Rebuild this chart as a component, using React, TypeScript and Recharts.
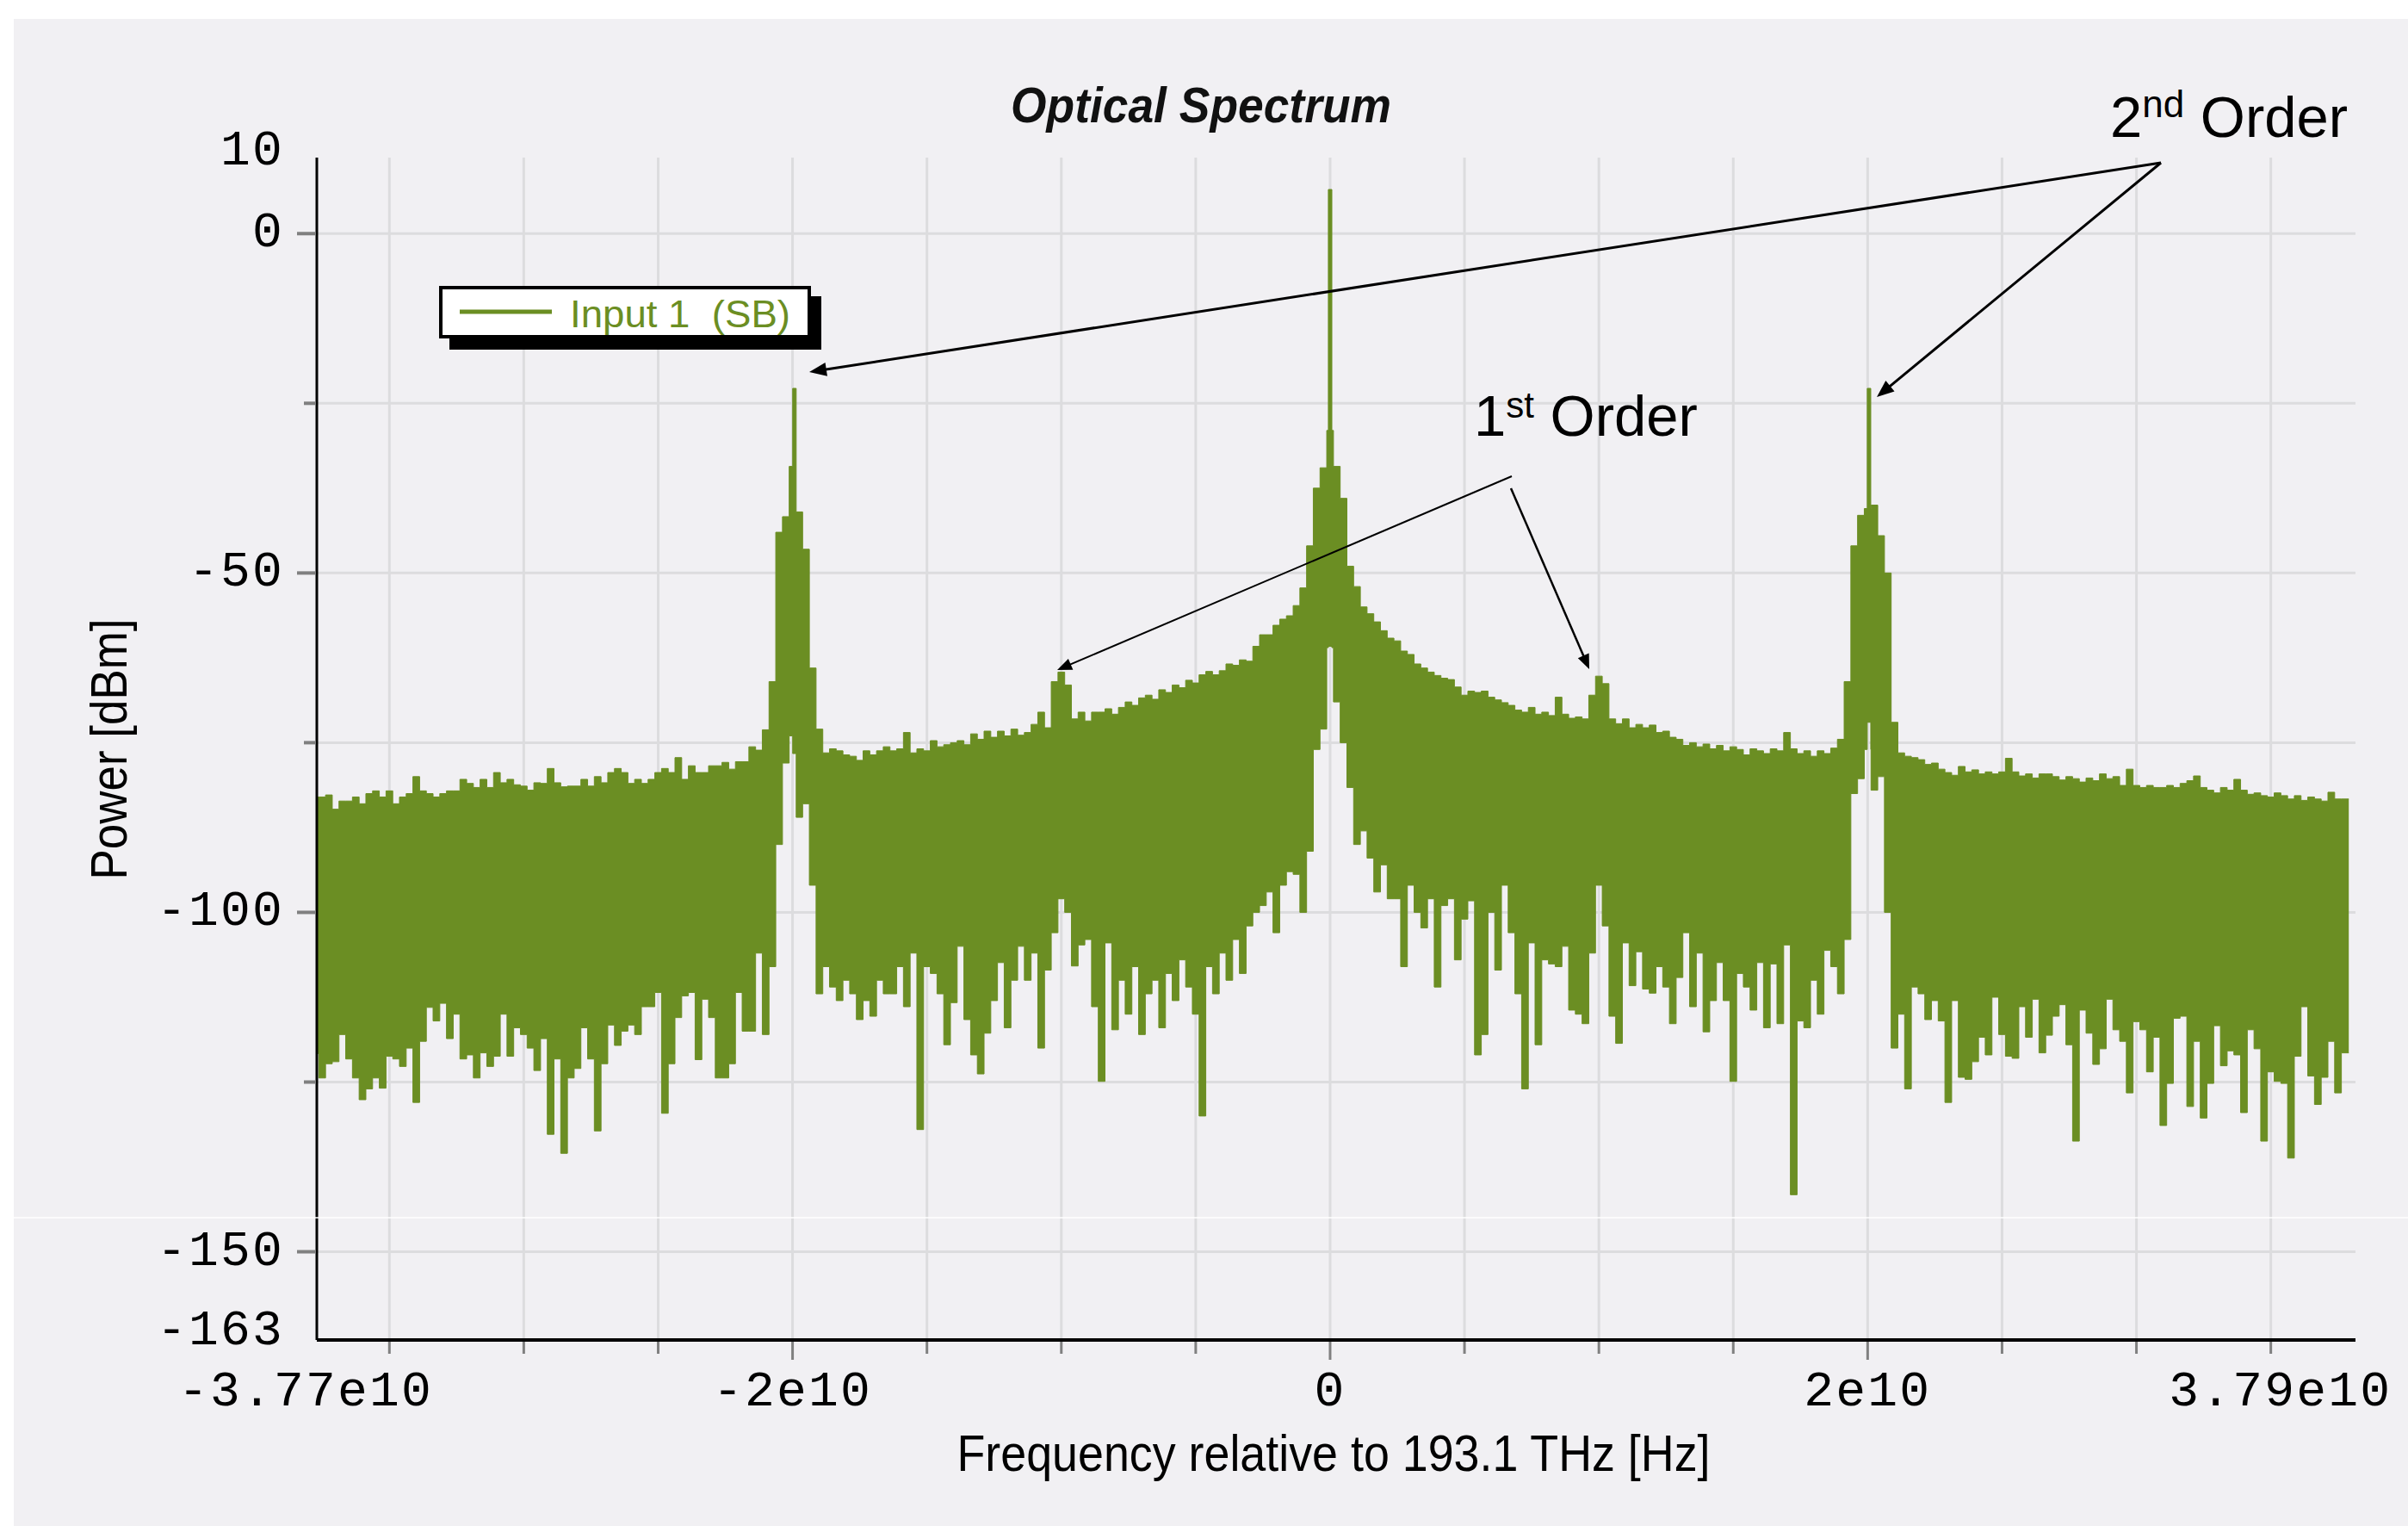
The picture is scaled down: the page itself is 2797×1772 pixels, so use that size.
import React from 'react';
import { ComposedChart, Area, XAxis, YAxis, CartesianGrid } from 'recharts';

// Frequency is in units of 1e10 Hz. The spectrum is binned: bin k starts at BIN0 + k * BIN_W.
const BIN0 = -3.7875;
const BIN_W = 0.025;
const F_MIN = -3.77;
const F_END = 3.79;
const X_MAX = 3.815;
const Y_MIN = -163;
const Y_MAX = 11.2;

// upper edge of each bin, dBm
const upper = [
  -83.0, -83.0, -82.7, -84.8, -83.6, -83.6, -83.0, -84.0, -82.5, -82.1,
  -83.0, -82.1, -84.0, -83.0, -82.5, -80.0, -82.1, -82.5, -83.0, -82.5,
  -82.1, -82.1, -80.4, -81.0, -81.6, -80.4, -81.6, -79.4, -80.9, -80.4,
  -81.2, -81.4, -82.0, -80.9, -81.0, -78.8, -80.9, -81.5, -81.4, -81.4,
  -80.4, -81.4, -80.0, -80.9, -79.4, -78.8, -79.4, -81.0, -80.4, -81.0,
  -80.4, -79.4, -78.8, -79.4, -77.2, -80.4, -78.4, -79.4, -79.4, -78.4,
  -78.4, -77.9, -78.9, -77.8, -77.8, -75.6, -76.1, -73.1, -66.0, -44.0,
  -41.7, -34.3, -41.0, -46.5, -64.0, -73.0, -76.5, -75.9, -76.2, -76.8,
  -77.0, -77.6, -76.2, -76.8, -76.2, -75.6, -76.2, -75.9, -73.5, -76.5,
  -75.9, -76.2, -74.7, -75.6, -75.3, -75.0, -74.7, -75.3, -73.7, -74.5,
  -73.3, -74.2, -73.3, -74.0, -73.0, -73.9, -73.5, -72.3, -70.5, -72.8,
  -66.0, -64.6, -66.5, -71.5, -70.5, -71.8, -70.5, -70.5, -70.0, -70.8,
  -69.8, -69.0, -69.5, -68.4, -68.0, -68.6, -67.2, -67.6, -66.5, -66.9,
  -65.8, -66.2, -65.0, -64.5, -65.0, -64.4, -63.4, -63.6, -62.8, -63.0,
  -60.8, -59.1, -59.1, -57.7, -56.8, -56.3, -54.8, -52.2, -46.0, -37.5,
  -34.5, -29.0, -34.3, -39.0, -49.0, -52.0, -55.0, -56.0, -57.2, -58.5,
  -59.6, -60.0, -61.5, -62.0, -63.4, -64.0, -64.6, -65.1, -65.5, -65.7,
  -66.8, -68.0, -67.4, -67.6, -67.4, -68.3, -68.7, -69.1, -69.5, -70.2,
  -70.5, -69.8, -70.8, -70.5, -71.0, -68.3, -70.8, -71.4, -71.2, -71.5,
  -68.0, -65.2, -66.3, -71.5, -72.2, -71.5, -72.8, -72.3, -72.8, -72.4,
  -73.5, -73.3, -74.2, -74.5, -75.4, -75.0, -75.6, -75.2, -75.9, -75.4,
  -76.2, -75.6, -76.0, -76.8, -75.9, -76.2, -76.6, -75.9, -76.2, -73.5,
  -75.9, -76.6, -76.2, -77.0, -76.2, -76.6, -75.8, -74.5, -66.0, -46.0,
  -41.5, -40.5, -40.0, -44.5, -50.0, -72.0, -76.5, -77.0, -77.2, -77.5,
  -78.2, -78.0, -78.9, -79.4, -79.8, -78.5, -79.3, -79.0, -79.6, -79.3,
  -79.6, -79.3, -77.3, -79.3, -79.9, -79.6, -80.2, -79.6, -79.6, -80.0,
  -80.5, -80.0, -80.3, -80.8, -80.2, -80.6, -79.6, -80.3, -80.0, -81.3,
  -78.9, -81.3, -81.6, -81.3, -81.6, -81.6, -81.3, -81.6, -81.0, -80.6,
  -79.9, -81.6, -82.0, -82.4, -81.6, -82.0, -80.4, -82.0, -82.6, -82.4,
  -82.8, -83.0, -82.4, -82.8, -83.3, -82.8, -83.5, -83.0, -83.3, -83.6,
  -82.3, -83.3, -83.3,
];

// lower edge of each bin, dBm
const lower = [
  -120.8, -124.4, -122.3, -122.0, -118.0, -121.6, -124.4, -127.6, -126.0, -124.4,
  -125.9, -121.2, -121.6, -122.7, -120.0, -128.0, -119.0, -114.0, -116.0, -113.4,
  -118.6, -115.0, -121.6, -121.0, -124.4, -120.7, -122.7, -121.2, -115.0, -121.2,
  -117.0, -118.0, -120.0, -123.3, -118.6, -132.7, -121.6, -135.5, -124.4, -123.0,
  -117.0, -121.6, -132.2, -122.3, -116.6, -119.6, -117.5, -116.6, -118.0, -113.9,
  -113.9, -111.8, -129.6, -122.3, -115.5, -112.3, -111.8, -121.7, -112.8, -115.5,
  -124.4, -124.4, -122.3, -111.8, -117.5, -117.5, -106.0, -118.0, -108.0, -90.0,
  -78.0, -74.0, -86.0, -84.0, -96.0, -112.0, -108.0, -111.0, -113.0, -110.0,
  -112.0, -115.8, -113.0, -115.3, -110.0, -112.0, -112.0, -108.0, -113.9, -106.0,
  -132.0, -108.0, -109.0, -112.0, -119.5, -113.3, -105.0, -115.8, -121.0, -123.8,
  -117.8, -113.0, -107.4, -117.0, -110.0, -105.0, -110.0, -106.0, -120.0, -108.5,
  -103.0, -98.0, -100.0, -107.9, -104.8, -104.0, -113.9, -124.9, -104.5, -117.3,
  -110.0, -115.0, -108.0, -118.0, -112.0, -110.0, -117.0, -109.0, -113.0, -107.0,
  -111.0, -115.0, -130.0, -108.0, -112.0, -106.0, -110.0, -104.0, -109.0, -102.0,
  -100.0, -99.0, -97.0, -103.0, -96.0, -94.0, -94.4, -100.0, -91.0, -76.0,
  -73.0, -61.0, -69.0, -75.0, -81.6, -90.0, -88.0, -92.0, -97.0, -93.0,
  -98.0, -98.0, -108.0, -96.0, -100.0, -102.3, -98.0, -111.0, -99.0, -98.0,
  -107.0, -101.0, -98.3, -121.0, -118.0, -100.0, -108.5, -96.0, -103.0, -112.0,
  -126.0, -104.5, -119.5, -107.0, -107.6, -108.0, -105.0, -114.4, -115.0, -116.4,
  -106.0, -96.0, -102.0, -115.3, -119.3, -104.5, -110.8, -105.8, -111.3, -111.9,
  -108.0, -111.0, -116.4, -109.6, -103.0, -113.9, -106.0, -117.6, -113.0, -107.4,
  -113.0, -124.9, -109.0, -111.0, -114.4, -107.4, -117.0, -107.6, -116.4, -104.8,
  -141.6, -116.0, -117.0, -110.0, -115.0, -105.6, -108.0, -112.0, -104.0, -82.5,
  -80.3, -76.0, -82.0, -80.0, -100.0, -120.0, -115.0, -126.0, -111.0, -112.0,
  -115.8, -113.0, -116.0, -128.0, -113.0, -124.3, -124.6, -122.0, -118.4, -121.0,
  -112.5, -118.0, -121.2, -121.5, -113.9, -118.4, -112.8, -120.7, -118.1, -115.3,
  -113.6, -119.5, -133.7, -114.4, -117.8, -122.4, -120.1, -112.8, -117.3, -119.0,
  -126.6, -116.1, -117.3, -123.5, -118.4, -131.4, -125.2, -115.6, -115.3, -128.6,
  -119.0, -130.3, -125.2, -116.7, -122.6, -120.4, -121.0, -129.5, -117.3, -120.1,
  -133.7, -123.5, -124.9, -125.2, -136.2, -121.2, -113.9, -124.1, -128.3, -124.3,
  -119.0, -126.6, -120.7,
];

// narrow carrier and 2nd-order lines on top of the binned envelope
const spikeFreqs = [-1.993, 0.0, 2.005];
const spikeTop = [-22.8, 6.5, -22.8];
const spikeBottom = [-76.6, -60.8, -72.0];
const SPIKE_W = 0.013;

const yTicks = [Y_MIN, -150, -125, -100, -75, -50, -25, 0, Y_MAX];
const yTickLabels = ['-163', '-150', '', '-100', '', '-50', '', '0', '10'];
const yGrid = [-150, -125, -100, -75, -50, -25, 0];

const xTicks = [F_MIN, -3.5, -3, -2.5, -2, -1.5, -1, -0.5, 0, 0.5, 1, 1.5, 2, 2.5, 3, 3.5, F_END];
const xTickLabels = ['-3.77e10', '', '', '', '-2e10', '', '', '', '0', '', '', '', '2e10', '', '', '', '3.79e10'];
const xGrid = [-3.5, -3, -2.5, -2, -1.5, -1, -0.5, 0, 0.5, 1, 1.5, 2, 2.5, 3, 3.5];

const GREEN = '#6B8E23';
const MONO = '"Liberation Mono", "DejaVu Sans Mono", monospace';
const SANS = '"Liberation Sans", Arial, sans-serif';

const bandAt = (f: number): [number, number] => {
  const s = spikeFreqs.findIndex((c) => f >= c - SPIKE_W / 2 - 1e-7 && f < c + SPIKE_W / 2 - 1e-7);
  if (s >= 0) return [spikeBottom[s], spikeTop[s]];
  const k = Math.min(upper.length - 1, Math.max(0, Math.floor((f - BIN0) / BIN_W + 1e-7)));
  return [lower[k], upper[k]];
};

const buildSpectrum = () => {
  const cuts: number[] = [];
  for (let k = 0; k < upper.length; k++) cuts.push(Math.max(F_MIN, BIN0 + k * BIN_W));
  spikeFreqs.forEach((c) => cuts.push(c - SPIKE_W / 2, c + SPIKE_W / 2));
  const sorted = Array.from(new Set(cuts.map((c) => +c.toFixed(5)))).sort((a, b) => a - b);
  const rows = sorted.map((f) => ({ f, band: bandAt(f) }));
  rows.push({ f: F_END, band: bandAt(F_END - 1e-6) });
  return rows;
};

const data = buildSpectrum();

const XTick = ({ x, y, payload }: any) => {
  const i = xTicks.findIndex((t) => Math.abs(t - payload.value) < 1e-6);
  const label = xTickLabels[i] || '';
  const isEnd = i === 0 || i === xTicks.length - 1;
  const major = label !== '' && !isEnd;
  let anchor: 'middle' | 'end' = 'middle';
  let dx = 0;
  if (i === 0) dx = -13;
  if (i === xTicks.length - 1) {
    anchor = 'end';
    dx = 50;
  }
  return (
    <g>
      {!isEnd && <line x1={x} x2={x} y1={y + 2} y2={y + (major ? 23 : 16)} stroke="#808080" strokeWidth={3} />}
      {label && (
        <text x={x + dx} y={y + 76} textAnchor={anchor} fontFamily={MONO} fontSize={58} letterSpacing={2.2} fill="#000">
          {label}
        </text>
      )}
    </g>
  );
};

const YTick = ({ x, y, payload }: any) => {
  const i = yTicks.findIndex((t) => Math.abs(t - payload.value) < 1e-6);
  const label = yTickLabels[i] || '';
  const isEnd = i === 0 || i === yTicks.length - 1;
  let dy = 15;
  if (i === 0) dy = 5;
  if (i === yTicks.length - 1) dy = 8;
  return (
    <g>
      {!isEnd && <line x1={x - (label ? 23 : 15)} x2={x - 1} y1={y} y2={y} stroke="#808080" strokeWidth={4} />}
      {label && (
        <text x={x - 38} y={y + dy} textAnchor="end" fontFamily={MONO} fontSize={58} letterSpacing={2.2} fill="#000">
          {label}
        </text>
      )}
    </g>
  );
};

const arrows = [
  { from: [2510, 189], to: [940, 432], w: 3, head: 20, half: 8 },
  { from: [2510, 189], to: [2180, 461], w: 3, head: 20, half: 8 },
  { from: [1756, 553], to: [1228, 778], w: 2, head: 17, half: 7 },
  { from: [1755, 567], to: [1846, 777], w: 2.5, head: 17, half: 7 },
];

const Arrow = ({ from, to, w, head, half }: any) => {
  const dx = to[0] - from[0];
  const dy = to[1] - from[1];
  const len = Math.hypot(dx, dy);
  const ux = dx / len;
  const uy = dy / len;
  const bx = to[0] - ux * head;
  const by = to[1] - uy * head;
  const pts = `${to[0]},${to[1]} ${bx - uy * half},${by + ux * half} ${bx + uy * half},${by - ux * half}`;
  return (
    <g>
      <line x1={from[0]} y1={from[1]} x2={bx + ux * 2} y2={by + uy * 2} stroke="#000" strokeWidth={w} />
      <polygon points={pts} fill="#000" />
    </g>
  );
};

const Overlay = () => (
  <svg width={2797} height={1772} style={{ position: 'absolute', left: 0, top: 0, pointerEvents: 'none' }}>
    <line x1={16} x2={2797} y1={1414} y2={1414} stroke="#fff" strokeWidth={1.5} />
    <text x={1395} y={142} textAnchor="middle" fontFamily={SANS} fontWeight="bold" fontStyle="italic" fontSize={58} textLength={442} lengthAdjust="spacingAndGlyphs" fill="#111">
      Optical Spectrum
    </text>
    <text x={1549} y={1708} textAnchor="middle" fontFamily={SANS} fontSize={60} textLength={875} lengthAdjust="spacingAndGlyphs" fill="#000">
      Frequency relative to 193.1 THz [Hz]
    </text>
    <text x={147} y={870} transform="rotate(-90 147 870)" textAnchor="middle" fontFamily={SANS} fontSize={60} textLength={303} lengthAdjust="spacingAndGlyphs" fill="#000">
      Power [dBm]
    </text>

    {/* legend */}
    <rect x={522} y={344} width={432} height={62} fill="#000" />
    <rect x={512} y={334} width={428} height={57} fill="#fff" stroke="#000" strokeWidth={4} />
    <line x1={534} x2={641} y1={362} y2={362} stroke={GREEN} strokeWidth={5} />
    <text x={662} y={380} fontFamily={SANS} fontSize={45} textLength={256} lengthAdjust="spacingAndGlyphs" fill={GREEN} style={{ whiteSpace: 'pre' }}>
      Input 1  (SB)
    </text>

    {arrows.map((a, i) => (
      <Arrow key={i} {...a} />
    ))}
    <text x={2451} y={159} fontFamily={SANS} fontSize={67} fill="#000">
      2<tspan dy={-23} fontSize={44}>nd</tspan>
      <tspan dy={23}> Order</tspan>
    </text>
    <text x={1712} y={506} fontFamily={SANS} fontSize={67} fill="#000">
      1<tspan dy={-21} fontSize={42}>st</tspan>
      <tspan dy={21}> Order</tspan>
    </text>
  </svg>
);

export default function App() {
  return (
    <div style={{ position: 'relative', width: 2797, height: 1772, background: '#fff', overflow: 'hidden' }}>
      <style>{'body { margin: 0; }'}</style>
      <div style={{ position: 'absolute', left: 16, top: 22, right: 0, bottom: 0, background: '#F1F0F3' }} />
      <div style={{ position: 'absolute', left: 0, top: 0 }}>
        <ComposedChart width={2797} height={1772} data={data} margin={{ top: 183, right: 61, bottom: 0, left: 0 }}>
          <CartesianGrid stroke="#DCDCDE" strokeWidth={3} horizontalValues={yGrid} verticalValues={xGrid} />
          <XAxis
            dataKey="f"
            type="number"
            domain={[F_MIN, X_MAX]}
            ticks={xTicks}
            interval={0}
            height={216}
            allowDataOverflow
            axisLine={{ stroke: '#000', strokeWidth: 4 }}
            tickLine={false}
            tickSize={0}
            tickMargin={0}
            tick={<XTick />}
          />
          <YAxis
            type="number"
            domain={[Y_MIN, Y_MAX]}
            ticks={yTicks}
            interval={0}
            width={368}
            allowDataOverflow
            axisLine={{ stroke: '#000', strokeWidth: 3 }}
            tickLine={false}
            tickSize={0}
            tickMargin={0}
            tick={<YTick />}
          />
          <Area
            type="stepAfter"
            dataKey="band"
            fill={GREEN}
            fillOpacity={1}
            stroke={GREEN}
            strokeWidth={1}
            dot={false}
            activeDot={false}
            isAnimationActive={false}
          />
        </ComposedChart>
      </div>
      <Overlay />
    </div>
  );
}
